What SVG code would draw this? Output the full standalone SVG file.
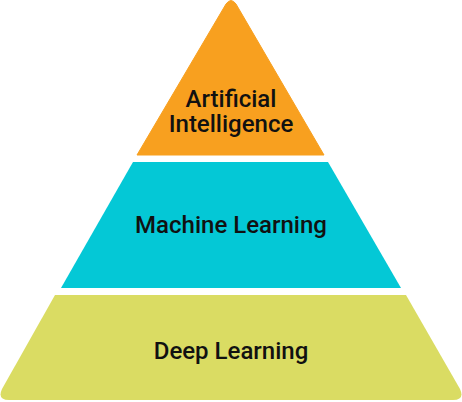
<svg xmlns="http://www.w3.org/2000/svg" width="462" height="402" viewBox="0 0 462 402">
<style>
.lbl{font-family:Roboto,"Liberation Sans",sans-serif;font-weight:500;font-size:24px;fill:#111;text-anchor:middle}
</style>
<rect width="462" height="402" fill="#fff"/>
<g id="ai">
<path d="M226,4 Q231,-3 236,4 L324,155 L137,155 Z" fill="#F8A01F" stroke="#F8A01F" stroke-width="1" stroke-linejoin="round"/>
<text class="lbl" x="231" y="107">Artificial</text>
<text class="lbl" x="231" y="132">Intelligence</text>
</g>
<g id="ml">
<path d="M133,162 L328,162 L401,288 L61,288 Z" fill="#04C8D6"/>
<text class="lbl" x="231" y="233">Machine Learning</text>
</g>
<g id="dl">
<path d="M55,295 L406,295 L460,389 Q465,400 453,400 L9,400 Q-3,400 2,389 Z" fill="#DADC63"/>
<text class="lbl" x="231" y="359">Deep Learning</text>
</g>
<g id="connectors"/>
</svg>
